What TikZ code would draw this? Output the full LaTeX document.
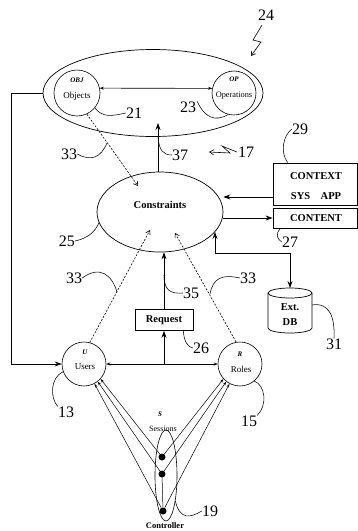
\documentclass[tikz,border=0pt]{standalone}
\usepackage{fontspec}
\setmainfont{Liberation Serif}
\usetikzlibrary{arrows.meta,shapes.geometric}
\begin{document}
\begin{tikzpicture}[x=1pt,y=-1pt,
  num/.style={font=\fontsize{16}{16}\selectfont, inner sep=0pt},
  lead/.style={line width=0.55pt},
  arr/.style={line width=0.7pt,-{Stealth[length=7pt,width=5pt]}},
  darr/.style={line width=0.6pt,dash pattern=on 2pt off 1.5pt,-{Straight Barb[length=4pt,width=5pt]}},
  sarr/.style={line width=0.5pt,-{Stealth[length=4pt,width=2.5pt]}},
  circ/.style={draw,circle,line width=0.6pt,minimum size=44pt,inner sep=0pt},
  small/.style={font=\fontsize{7}{7}\selectfont\bfseries\itshape,inner sep=0pt},
  ctext/.style={font=\fontsize{9}{9}\selectfont,inner sep=0pt},
  btext/.style={font=\fontsize{10.5}{10.5}\selectfont\bfseries,inner sep=0pt},
  dot/.style={circle,fill,inner sep=0pt,minimum size=7pt},
  squig/.style={line width=0.6pt,-{Straight Barb[length=4pt,width=5pt]}},
]
\useasboundingbox (0,0) rectangle (358,531);

% top ellipse
\node[draw,ellipse,line width=0.7pt,minimum width=220pt,minimum height=87pt,inner sep=0pt] (top) at (153,93) {};
\node[circ,minimum size=46pt] (obj) at (77,93) {};
\node[small] (objl) at (77,80) {OBJ};
\node[ctext] (objt) at (77,96) {Objects};
\node[circ] (op) at (234,93) {};
\node[small] (opl) at (234,79) {OP};
\node[ctext,font=\fontsize{8.3}{8.3}\selectfont] (opt) at (234,96) {Operations};
\draw[line width=0.6pt,{Stealth[length=4pt,width=3pt]}-{Stealth[length=4pt,width=3pt]}] (obj.12) -- (op.168);

% 24 squiggle
\node[num] (n24) at (266,15) {24};
\draw[squig] (262,25) -- (253,40) -- (261,42) -- (251,56);

% constraints
\node[draw,ellipse,line width=0.7pt,minimum width=126pt,minimum height=80pt,inner sep=0pt] (con) at (160,212) {};
\node[btext] (cont) at (160,205) {Constraints};
\coordinate (t37) at (158,123);
\draw[arr] ([xshift=-2pt]con.north) -- (t37);

% context / content
\node[draw,line width=0.8pt,minimum width=84pt,minimum height=42pt,inner sep=0pt] (ctx) at (315,184) {};
\node[btext] (ctxa) at (316,176) {CONTEXT};
\node[btext] (ctxb) at (316,196) {SYS\quad APP};
\node[draw,line width=0.8pt,minimum width=84pt,minimum height=20pt,inner sep=0pt] (cnt) at (315,218) {};
\node[btext] (cntt) at (316,218) {CONTENT};
\draw[arr] ([yshift=-13pt]ctx.west) -- ([yshift=-13pt]ctx.west -| con.east);
\draw[arr] (cnt.west -| con.east) -- (cnt.west);

% Ext DB cylinder
\draw[line width=0.7pt] (290,293) ellipse [x radius=22, y radius=5];
\draw[line width=0.7pt] (268,293) -- (268,328) arc [start angle=180, end angle=0, x radius=22, y radius=5] -- (312,293);
\node[btext] (dba) at (290,307) {Ext.};
\node[btext] (dbb) at (290,322) {DB};
\coordinate (dbtop) at (290,288);
\draw[line width=0.7pt,{Stealth[length=7pt,width=5pt]}-{Stealth[length=7pt,width=5pt]}] (con.-20) -- ++(0,21) -| (dbtop);

% users / roles
\node[circ] (users) at (84,364) {};
\node[small] (ul) at (85,352) {U};
\node[ctext] (ut) at (85,367) {Users};
\node[circ] (roles) at (240,364) {};
\node[small] (rl) at (240,354) {R};
\node[ctext] (rt) at (241,369) {Roles};
\draw[line width=0.6pt,{Stealth[length=4pt,width=3pt]}-{Stealth[length=4pt,width=3pt]}] (users.east) -- (roles.west);
\draw[arr] (top.west) -- ++(-31,0) |- (users.west);

% request
\node[draw,line width=0.7pt,minimum width=58pt,minimum height=21pt,inner sep=0pt,font=\fontsize{10.5}{10.5}\selectfont\bfseries] (req) at (164,320) {Request};
\coordinate (jn) at (164,364);
\draw[arr] (jn) -- (req.south);
\draw[arr] (req.north) -- (req.north |- con.south);

% dashed arrows
\draw[darr] (obj.-65) -- ([xshift=-22pt,yshift=26pt]con.center);
\draw[darr] (users.75) -- ([xshift=-10pt,yshift=-18pt]con.center);
\draw[darr] (roles.100) -- ([xshift=15pt,yshift=-21pt]con.center);

% sessions
\node[draw,ellipse,line width=0.6pt,minimum width=22pt,minimum height=91pt,inner sep=0pt] (ses) at (166,475.5) {};
\node[small] (sl) at (160,414) {S};
\node[font=\fontsize{8}{8}\selectfont,inner sep=0pt] (st) at (163,429) {Sessions};
\node[dot] (d1) at (162,457) {};
\node[dot] (d2) at (162,474) {};
\node[dot] (d3) at (163,511) {};
\draw[line width=0.5pt] (d2) -- (d3);
\draw[sarr] (d1) -- (users.-42);
\draw[sarr] (d2) -- (users.-52);
\draw[sarr] (d3) -- (users.-62);
\draw[sarr] (d1) -- (roles.-138);
\draw[sarr] (d2) -- (roles.-128);
\draw[sarr] (d3) -- (roles.-118);
\node[font=\fontsize{8.5}{8.5}\selectfont\bfseries,inner sep=0pt] (ctrl) at (165,526) {Controller};

% number labels
\node[num] (n21) at (134,113) {21};
\node[num] (n23) at (188,107) {23};
\node[num] (n33a) at (69,154) {33};
\node[num] (n37) at (180,155) {37};
\node[num] (n17) at (246,152) {17};
\node[num] (n29) at (300,129) {29};
\node[num] (n25) at (67,241) {25};
\node[num] (n27) at (290,242) {27};
\node[num] (n33b) at (74,278) {33};
\node[num] (n35) at (191,293) {35};
\node[num] (n33c) at (248,278) {33};
\node[num] (n31) at (334,344) {31};
\node[num] (n26) at (201,348) {26};
\node[num] (n13) at (66,412) {13};
\node[num] (n15) at (249,421) {15};
\node[num] (n19) at (210,511) {19};

% 17 squiggle
\draw[squig] ([xshift=-1pt]n17.west) -- (222,146) -- (230,153) -- (209,152);

% leaders
\draw[lead] (obj.-40) .. controls (103,118) and (112,116) .. (n21.west);
\draw[lead] ([xshift=1pt]n23.north east) .. controls (205,118) and (215,122) .. (op.-105);
\draw[lead] (n33a.east) .. controls (92,162) and (101,157) .. (107,143);
\draw[lead] (158,137) .. controls (159,150) and (163,155) .. (n37.west);
\draw[lead] ([xshift=15pt]ctx.north west) .. controls (280,152) and (283,136) .. (n29.west);
\draw[lead] (con.190) .. controls (95,232) and (88,238) .. (n25.east);
\draw[lead] ([xshift=8pt]cnt.south west) .. controls (275,234) and (277,239) .. (n27.west);
\draw[lead] (n33b.east) .. controls (100,265) and (112,275) .. (117,292);
\draw[lead] (164,275) .. controls (164,290) and (170,294) .. (n35.west);
\draw[lead] (210,294) .. controls (213,278) and (222,274) .. (n33c.west);
\draw[lead] (312,305) .. controls (330,302) and (335,318) .. (n31.north);
\draw[lead] ([xshift=-10pt]req.south east) .. controls (184,342) and (188,347) .. (n26.west);
\draw[lead] (users.200) .. controls (50,378) and (50,398) .. (n13.north west);
\draw[lead] (roles.-50) .. controls (265,385) and (268,405) .. (n15.north east);
\draw[lead] (ses.-70) .. controls (180,520) and (190,518) .. (n19.west);
\end{tikzpicture}
\end{document}
